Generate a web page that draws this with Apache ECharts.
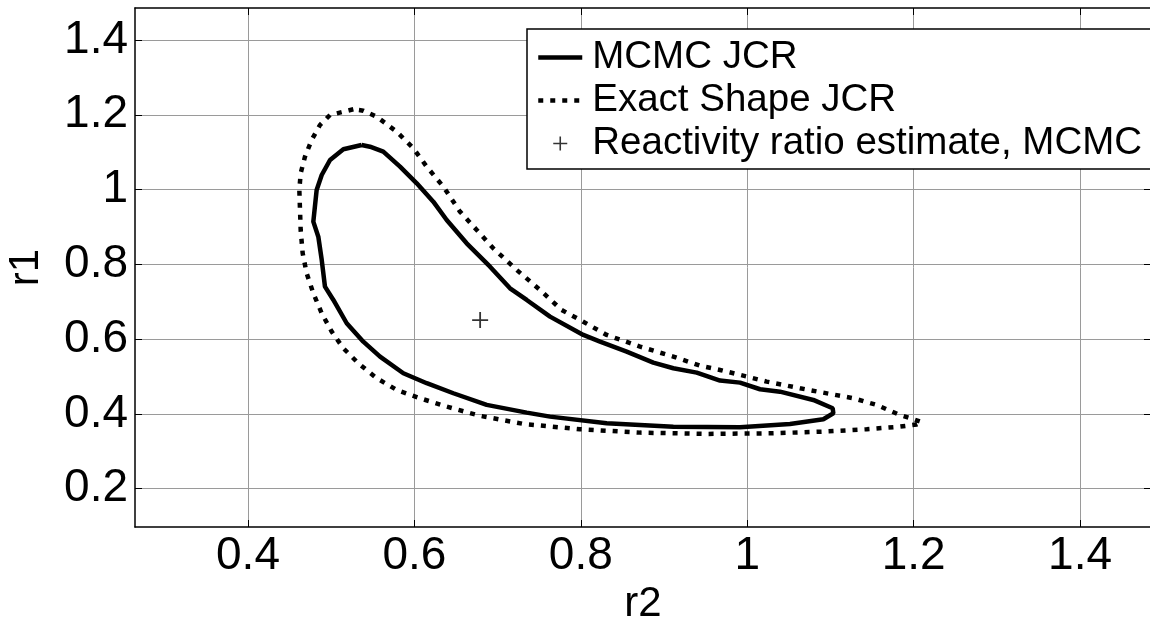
<!DOCTYPE html>
<html>
<head>
<meta charset="utf-8">
<script src="https://cdn.jsdelivr.net/npm/echarts@6/dist/echarts.min.js"></script>
<style>html,body{margin:0;padding:0;background:#fff;}#c{width:1150px;height:618px;}</style>
</head>
<body>
<div id="c"></div>
<script>
// ---- data ----
var xTicks = [0.4, 0.6, 0.8, 1, 1.2, 1.4];
var yTicks = [0.2, 0.4, 0.6, 0.8, 1, 1.2, 1.4];

var mcmcR2 = [0.5366,0.5146,0.4986,0.4886,0.4825,0.4785,0.4845,0.4886,0.4925,0.5026,0.5186,0.5386,0.5587,0.5867,0.6148,0.6468,0.6869,0.735,0.763,0.8311,0.9112,0.9913,1.0514,1.0915,1.1035,1.1027,1.0794,1.0394,1.0154,0.9913,0.9673,0.9393,0.9112,0.8871,0.8551,0.8231,0.803,0.763,0.735,0.7149,0.6909,0.6628,0.6388,0.6227,0.6028,0.5827,0.5626,0.5466,0.5366];
var mcmcR1 = [1.1193,1.1078,1.0791,1.039,0.999,0.9142,0.874,0.8118,0.7404,0.7048,0.6425,0.5933,0.5533,0.5088,0.4821,0.4553,0.4241,0.4035,0.3928,0.375,0.366,0.3643,0.3733,0.3858,0.4019,0.4152,0.4374,0.4596,0.466,0.4837,0.4891,0.5105,0.5222,0.5372,0.5666,0.5933,0.6112,0.6602,0.7048,0.7359,0.7938,0.8563,0.9187,0.9677,1.0168,1.0612,1.1013,1.1147,1.1193];

var exactR2 = [0.5266,0.4986,0.4865,0.4765,0.4685,0.4633,0.4617,0.4625,0.4633,0.4657,0.4705,0.4785,0.4886,0.5006,0.5146,0.5326,0.5547,0.5787,0.6067,0.6388,0.6788,0.7309,0.799,0.8712,0.9513,1.0314,1.0915,1.1436,1.1837,1.2037,1.2097,1.1956,1.1837,1.1556,1.1276,1.0995,1.0635,1.0234,0.9994,0.9673,0.9433,0.9112,0.8712,0.8311,0.801,0.777,0.751,0.723,0.6948,0.6749,0.6548,0.6348,0.6148,0.5987,0.5787,0.5547,0.5386,0.5266];
var exactR1 = [1.2147,1.1995,1.1727,1.1326,1.088,1.0436,0.999,0.9455,0.892,0.8297,0.7762,0.7227,0.6692,0.62,0.5756,0.5355,0.4955,0.4642,0.442,0.4195,0.395,0.3733,0.359,0.35,0.3465,0.3483,0.3527,0.359,0.366,0.372,0.378,0.389,0.397,0.424,0.442,0.4535,0.4687,0.4864,0.5,0.5176,0.529,0.5532,0.58,0.6112,0.649,0.678,0.7316,0.785,0.843,0.892,0.941,1.0078,1.0612,1.1104,1.1548,1.1949,1.211,1.2147];

var estR2 = [0.679];
var estR1 = [0.651];

var names = ['MCMC JCR', 'Exact Shape JCR', 'Reactivity ratio estimate, MCMC'];

function zip(a, b) { return a.map(function (v, i) { return [v, b[i]]; }); }

var FONT = "'Liberation Sans', Arial, sans-serif";
var PLUS = 'path://M7.1,0H8.9V7.1H16V8.9H8.9V16H7.1V8.9H0V7.1H7.1Z';
var DOTS = [5, 7];
var XMIN = 0.26418, XMAX = 1.4853, YMIN = 0.0976, YMAX = 1.4856;

var frameLine = {show: true, onZero: false, lineStyle: {color: '#000', width: 1.5}};
function ticks(vals) {
  return {show: true, inside: true, length: 7, customValues: vals, lineStyle: {color: '#000', width: 1}};
}
var GRID_LINE = {show: true, lineStyle: {color: '#9a9a9a', width: 1}};

var chart = echarts.init(document.getElementById('c'), null, {renderer: 'canvas'});
chart.setOption({
  animation: false,
  backgroundColor: '#fff',
  grid: {left: 135, top: 8, bottom: 91, right: -1, containLabel: false, outerBoundsMode: 'none'},
  xAxis: [{
    type: 'value', min: XMIN, max: XMAX,
    name: 'r2', nameLocation: 'middle', nameGap: 52,
    nameTextStyle: {fontSize: 42, color: '#000', fontFamily: FONT},
    axisLine: frameLine,
    axisTick: ticks(xTicks),
    axisLabel: {customValues: xTicks, fontSize: 46, color: '#000', fontFamily: FONT, margin: 6},
    splitLine: GRID_LINE
  }, {
    type: 'value', position: 'top', min: XMIN, max: XMAX,
    axisLine: frameLine,
    axisTick: ticks(xTicks),
    axisLabel: {show: false},
    splitLine: {show: false}
  }],
  yAxis: [{
    type: 'value', min: YMIN, max: YMAX,
    name: 'r1', nameLocation: 'middle', nameGap: 88, nameRotate: 90,
    nameTextStyle: {fontSize: 42, color: '#000', fontFamily: FONT},
    axisLine: frameLine,
    axisTick: ticks(yTicks),
    axisLabel: {customValues: yTicks, fontSize: 46, color: '#000', fontFamily: FONT, margin: 7},
    splitLine: GRID_LINE
  }, {
    type: 'value', position: 'right', min: YMIN, max: YMAX,
    axisLine: frameLine,
    axisTick: ticks(yTicks),
    axisLabel: {show: false},
    splitLine: {show: false}
  }],
  legend: {
    orient: 'vertical', left: 527, top: 29,
    itemWidth: 44, itemHeight: 14, itemGap: 4,
    padding: [9, 14, 6, 9],
    backgroundColor: '#fff', borderColor: '#000', borderWidth: 1.5,
    textStyle: {fontSize: 38.5, color: '#000', fontFamily: FONT, padding: [0, 0, 0, 5]},
    data: [
      {name: names[0], itemStyle: {opacity: 0}, lineStyle: {width: 4.5, type: 'solid', color: '#000'}},
      {name: names[1], itemStyle: {opacity: 0}, lineStyle: {width: 4.5, type: DOTS, color: '#000', cap: 'butt'}},
      {name: names[2], icon: PLUS}
    ]
  },
  series: [{
    name: names[0], type: 'line', data: zip(mcmcR2, mcmcR1),
    symbol: 'none', smooth: false, z: 3,
    lineStyle: {color: '#000', width: 4.5, type: 'solid'},
    itemStyle: {color: '#000'}
  }, {
    name: names[1], type: 'line', data: zip(exactR2, exactR1),
    symbol: 'none', smooth: false, z: 3,
    lineStyle: {color: '#000', width: 4.5, type: DOTS, cap: 'butt'},
    itemStyle: {color: '#000'}
  }, {
    name: names[2], type: 'scatter', data: zip(estR2, estR1),
    symbol: PLUS, symbolSize: 16, z: 4,
    itemStyle: {color: '#000'}
  }]
});
</script>
</body>
</html>
